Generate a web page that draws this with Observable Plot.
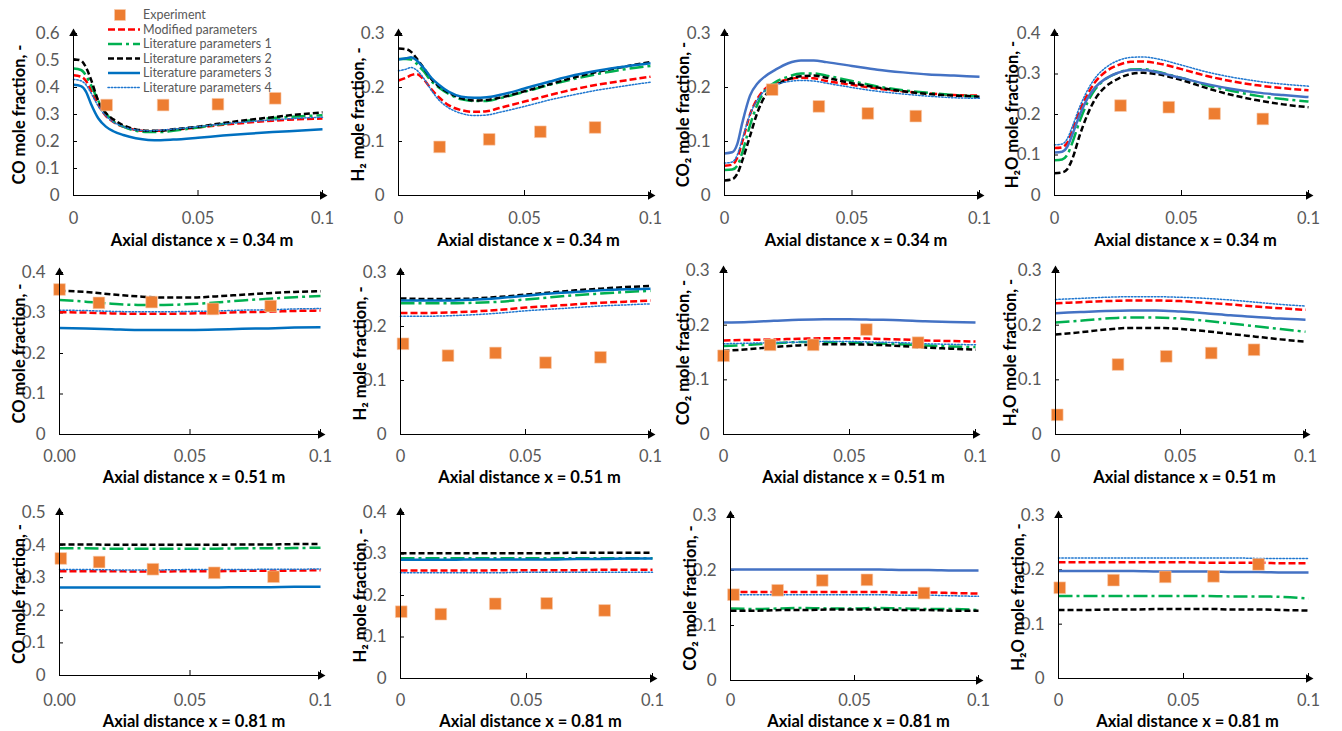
<!DOCTYPE html>
<html><head><meta charset="utf-8">
<script src="https://cdn.jsdelivr.net/npm/d3@7"></script>
<script src="https://cdn.jsdelivr.net/npm/@observablehq/plot@0.6"></script>
<style>
body{margin:0;background:#fff;}
#root{position:relative;width:1342px;height:731px;overflow:hidden;font-family:Lato,sans-serif;}
.panel{position:absolute;}
</style></head><body><div id="root"></div>
<script>
// ---------- DATA ----------
const seriesNames = ["Experiment","Modified parameters","Literature parameters 1","Literature parameters 2","Literature parameters 3","Literature parameters 4"];
const xA = [0,0.003,0.005,0.007,0.01,0.013,0.016,0.02,0.025,0.03,0.035,0.04,0.05,0.06,0.07,0.08,0.09,0.1];
const xB = [0,0.01,0.02,0.03,0.04,0.05,0.06,0.07,0.08,0.09,0.1];

// Row 1: x = 0.34 m
const co034_mod  = [0.445,0.44,0.425,0.39,0.335,0.295,0.272,0.255,0.243,0.238,0.24,0.243,0.252,0.262,0.27,0.277,0.282,0.285];
const co034_lit1 = [0.47,0.465,0.445,0.41,0.35,0.305,0.275,0.255,0.24,0.235,0.235,0.24,0.252,0.265,0.277,0.287,0.293,0.297];
const co034_lit2 = [0.505,0.5,0.475,0.43,0.35,0.305,0.282,0.26,0.245,0.24,0.24,0.245,0.255,0.268,0.28,0.29,0.3,0.308];
const co034_lit3 = [0.41,0.405,0.385,0.34,0.285,0.255,0.238,0.224,0.212,0.206,0.205,0.207,0.214,0.222,0.229,0.235,0.24,0.245];
const co034_lit4 = [0.43,0.425,0.41,0.38,0.33,0.295,0.272,0.255,0.243,0.24,0.242,0.246,0.255,0.265,0.273,0.28,0.286,0.29];
const co034_expX = [0.0133,0.036,0.058,0.081];
const co034_expY = [0.335,0.335,0.338,0.36];

const h2034_mod  = [0.213,0.218,0.223,0.225,0.215,0.197,0.182,0.167,0.158,0.155,0.156,0.162,0.174,0.186,0.197,0.206,0.213,0.22];
const h2034_lit1 = [0.253,0.253,0.252,0.245,0.23,0.212,0.2,0.188,0.178,0.175,0.175,0.18,0.192,0.205,0.216,0.226,0.234,0.24];
const h2034_lit2 = [0.272,0.271,0.266,0.255,0.236,0.216,0.202,0.19,0.18,0.176,0.177,0.181,0.193,0.206,0.219,0.23,0.239,0.247];
const h2034_lit3 = [0.252,0.254,0.256,0.251,0.236,0.218,0.205,0.192,0.183,0.181,0.182,0.186,0.198,0.211,0.223,0.232,0.239,0.245];
const h2034_lit4 = [0.231,0.234,0.237,0.233,0.217,0.195,0.177,0.162,0.152,0.148,0.149,0.154,0.165,0.177,0.187,0.196,0.203,0.21];
const h2034_expX = [0.0163,0.036,0.0563,0.078];
const h2034_expY = [0.09,0.104,0.118,0.126];

const co2034_mod  = [0.055,0.057,0.07,0.1,0.15,0.18,0.198,0.208,0.215,0.218,0.217,0.212,0.205,0.198,0.193,0.189,0.186,0.185];
const co2034_lit1 = [0.047,0.048,0.055,0.08,0.13,0.17,0.195,0.21,0.22,0.226,0.226,0.222,0.212,0.202,0.195,0.19,0.186,0.183];
const co2034_lit2 = [0.028,0.03,0.04,0.065,0.11,0.155,0.185,0.203,0.215,0.221,0.222,0.218,0.208,0.2,0.193,0.188,0.185,0.183];
const co2034_lit3 = [0.078,0.08,0.095,0.135,0.185,0.208,0.221,0.233,0.245,0.25,0.25,0.247,0.24,0.233,0.228,0.224,0.222,0.22];
const co2034_lit4 = [0.06,0.062,0.075,0.105,0.15,0.178,0.195,0.205,0.211,0.213,0.212,0.208,0.2,0.193,0.188,0.184,0.181,0.18];
const co2034_expX = [0.0187,0.037,0.0562,0.075];
const co2034_expY = [0.196,0.165,0.152,0.147];

const h2o034_mod  = [0.117,0.119,0.13,0.16,0.21,0.25,0.28,0.305,0.322,0.33,0.331,0.327,0.312,0.295,0.282,0.272,0.265,0.26];
const h2o034_lit1 = [0.087,0.089,0.1,0.13,0.185,0.23,0.262,0.287,0.303,0.311,0.312,0.306,0.29,0.272,0.258,0.246,0.238,0.232];
const h2o034_lit2 = [0.055,0.057,0.065,0.09,0.15,0.2,0.238,0.268,0.288,0.3,0.303,0.3,0.285,0.265,0.248,0.235,0.225,0.218];
const h2o034_lit3 = [0.106,0.108,0.12,0.15,0.2,0.24,0.267,0.288,0.303,0.31,0.31,0.305,0.29,0.275,0.263,0.254,0.248,0.243];
const h2o034_lit4 = [0.125,0.127,0.14,0.17,0.22,0.26,0.29,0.315,0.333,0.341,0.342,0.338,0.322,0.305,0.292,0.282,0.275,0.27];
const h2o034_expX = [0.026,0.045,0.063,0.082];
const h2o034_expY = [0.222,0.218,0.202,0.189];

// Row 2: x = 0.51 m
const co051_mod  = [0.302,0.301,0.299,0.298,0.298,0.299,0.3,0.302,0.303,0.305,0.306];
const co051_lit1 = [0.332,0.328,0.323,0.32,0.32,0.322,0.326,0.331,0.335,0.339,0.342];
const co051_lit2 = [0.355,0.352,0.346,0.341,0.338,0.338,0.341,0.345,0.349,0.352,0.354];
const co051_lit3 = [0.263,0.262,0.26,0.258,0.258,0.258,0.259,0.261,0.262,0.264,0.265];
const co051_lit4 = [0.307,0.306,0.304,0.303,0.303,0.304,0.305,0.307,0.308,0.31,0.311];
const co051_expX = [0.0,0.0151,0.0353,0.0588,0.0809];
const co051_expY = [0.358,0.325,0.327,0.31,0.317];

const h2051_mod  = [0.225,0.225,0.226,0.228,0.231,0.235,0.238,0.241,0.244,0.246,0.248];
const h2051_lit1 = [0.243,0.243,0.243,0.244,0.246,0.25,0.254,0.258,0.261,0.264,0.266];
const h2051_lit2 = [0.252,0.251,0.251,0.252,0.255,0.259,0.263,0.267,0.27,0.273,0.275];
const h2051_lit3 = [0.248,0.248,0.248,0.25,0.253,0.257,0.261,0.264,0.267,0.269,0.27];
const h2051_lit4 = [0.219,0.219,0.22,0.222,0.225,0.229,0.232,0.235,0.238,0.24,0.242];
const h2051_expX = [0.001,0.019,0.038,0.058,0.08];
const h2051_expY = [0.168,0.146,0.151,0.133,0.143];

const co2051_mod  = [0.172,0.173,0.174,0.175,0.176,0.176,0.175,0.174,0.172,0.171,0.17];
const co2051_lit1 = [0.162,0.164,0.167,0.169,0.169,0.168,0.167,0.165,0.163,0.161,0.16];
const co2051_lit2 = [0.153,0.156,0.16,0.163,0.165,0.165,0.164,0.162,0.159,0.157,0.155];
const co2051_lit3 = [0.205,0.206,0.208,0.21,0.211,0.211,0.21,0.209,0.207,0.206,0.205];
const co2051_lit4 = [0.166,0.167,0.168,0.169,0.17,0.17,0.169,0.168,0.166,0.165,0.164];
const co2051_expX = [0.0,0.0185,0.0356,0.0567,0.0772];
const co2051_expY = [0.144,0.164,0.164,0.192,0.168];

const h2o051_mod  = [0.24,0.242,0.244,0.245,0.245,0.244,0.241,0.238,0.234,0.231,0.228];
const h2o051_lit1 = [0.205,0.208,0.212,0.214,0.214,0.212,0.208,0.203,0.198,0.193,0.188];
const h2o051_lit2 = [0.183,0.187,0.192,0.195,0.195,0.193,0.189,0.184,0.179,0.174,0.17];
const h2o051_lit3 = [0.222,0.224,0.226,0.227,0.227,0.225,0.222,0.218,0.215,0.212,0.21];
const h2o051_lit4 = [0.247,0.249,0.251,0.252,0.252,0.251,0.249,0.246,0.242,0.238,0.235];
const h2o051_expX = [0.0007,0.025,0.0443,0.0623,0.0794];
const h2o051_expY = [0.036,0.128,0.143,0.149,0.155];

// Row 3: x = 0.81 m
const co081_mod  = [0.32,0.32,0.32,0.319,0.319,0.32,0.32,0.321,0.321,0.322,0.323];
const co081_lit1 = [0.39,0.39,0.389,0.389,0.389,0.389,0.389,0.39,0.39,0.391,0.392];
const co081_lit2 = [0.402,0.402,0.401,0.401,0.401,0.401,0.401,0.402,0.402,0.403,0.403];
const co081_lit3 = [0.27,0.27,0.27,0.27,0.27,0.27,0.27,0.271,0.271,0.272,0.272];
const co081_lit4 = [0.325,0.325,0.324,0.324,0.324,0.325,0.325,0.325,0.326,0.326,0.327];
const co081_expX = [0.0005,0.0152,0.0358,0.0593,0.082];
const co081_expY = [0.359,0.348,0.326,0.315,0.303];

const h2081_mod  = [0.26,0.26,0.26,0.26,0.261,0.261,0.261,0.261,0.262,0.262,0.262];
const h2081_lit1 = [0.29,0.29,0.29,0.29,0.29,0.29,0.29,0.29,0.29,0.29,0.29];
const h2081_lit2 = [0.302,0.302,0.302,0.302,0.302,0.302,0.302,0.303,0.303,0.303,0.303];
const h2081_lit3 = [0.286,0.286,0.286,0.287,0.287,0.287,0.287,0.288,0.288,0.289,0.289];
const h2081_lit4 = [0.255,0.255,0.255,0.255,0.255,0.256,0.256,0.256,0.256,0.256,0.256];
const h2081_expX = [0.0003,0.016,0.0376,0.058,0.081];
const h2081_expY = [0.161,0.155,0.18,0.181,0.164];

const co2081_mod  = [0.161,0.161,0.161,0.161,0.161,0.161,0.161,0.16,0.16,0.159,0.158];
const co2081_lit1 = [0.131,0.13,0.131,0.132,0.131,0.131,0.132,0.131,0.13,0.13,0.128];
const co2081_lit2 = [0.127,0.127,0.128,0.128,0.129,0.129,0.129,0.128,0.128,0.127,0.127];
const co2081_lit3 = [0.202,0.202,0.202,0.202,0.202,0.202,0.202,0.201,0.201,0.2,0.2];
const co2081_lit4 = [0.156,0.156,0.156,0.156,0.156,0.156,0.156,0.155,0.155,0.154,0.153];
const co2081_expX = [0.0012,0.019,0.037,0.055,0.078];
const co2081_expY = [0.156,0.164,0.182,0.183,0.159];

const h2o081_mod  = [0.214,0.214,0.214,0.214,0.214,0.214,0.213,0.213,0.213,0.212,0.212];
const h2o081_lit1 = [0.152,0.152,0.152,0.152,0.152,0.152,0.152,0.151,0.151,0.15,0.147];
const h2o081_lit2 = [0.126,0.126,0.127,0.127,0.128,0.128,0.128,0.127,0.127,0.126,0.125];
const h2o081_lit3 = [0.198,0.198,0.198,0.198,0.197,0.197,0.197,0.196,0.196,0.195,0.195];
const h2o081_lit4 = [0.222,0.222,0.222,0.222,0.222,0.222,0.222,0.222,0.221,0.221,0.221];
const h2o081_expX = [0.0005,0.022,0.0427,0.062,0.08];
const h2o081_expY = [0.167,0.181,0.187,0.188,0.21];

const yTitles = ["CO mole fraction, -","H\u2082 mole fraction, -","CO\u2082 mole fraction, -","H\u2082O mole fraction, -"];
const xTitles = ["Axial distance x = 0.34 m","Axial distance x = 0.51 m","Axial distance x = 0.81 m"];
const xTickValues = [0,0.05,0.1];
const xTickLabelsA = ["0","0.05","0.1"];
const xTickLabelsB = ["0.00","0.05","0.1"];
const yMaxes = [0.6,0.3,0.3,0.4, 0.4,0.3,0.3,0.3, 0.5,0.4,0.3,0.3];

// ---------- STYLES & LAYOUT ----------
const blueDark = "#0070C0", blueLight = "#4472C4";
const lineStyles = [
  {key:"mod",  stroke:"#FF0000", width:2.5, dash:"7,3"},
  {key:"lit1", stroke:"#00B050", width:2.5, dash:"14,4,3,4"},
  {key:"lit2", stroke:"#000000", width:2.5, dash:"6,3"},
  {key:"lit3", stroke:null,      width:2.5, dash:null},
  {key:"lit4", stroke:"#1F77D0", width:1.5, dash:"1.5,1.8"}
];
const expStyle = {fill:"#ED7D31", stroke:"#F8CBAD"};

const panelDefs = [
  {id:"co034",  x:xA, x0:73,  x1:322, yT:33,  yB:195, ylabX:19,   row:0, col:0},
  {id:"h2034",  x:xA, x0:398, x1:650, yT:33,  yB:195, ylabX:358,  row:0, col:1},
  {id:"co2034", x:xA, x0:724, x1:979, yT:33,  yB:195, ylabX:683,  row:0, col:2},
  {id:"h2o034", x:xA, x0:1054,x1:1308,yT:33,  yB:195, ylabX:1012, row:0, col:3},
  {id:"co051",  x:xB, x0:59,  x1:320, yT:272, yB:434, ylabX:19,   row:1, col:0},
  {id:"h2051",  x:xB, x0:400, x1:650, yT:272, yB:434, ylabX:360,  row:1, col:1},
  {id:"co2051", x:xB, x0:723, x1:975, yT:270, yB:434, ylabX:683,  row:1, col:2},
  {id:"h2o051", x:xB, x0:1055,x1:1305,yT:270, yB:434, ylabX:1010, row:1, col:3},
  {id:"co081",  x:xB, x0:59,  x1:320, yT:512, yB:675, ylabX:19,   row:2, col:0},
  {id:"h2081",  x:xB, x0:400, x1:652, yT:512, yB:678, ylabX:360,  row:2, col:1},
  {id:"co2081", x:xB, x0:730, x1:978, yT:515, yB:680, ylabX:690,  row:2, col:2},
  {id:"h2o081", x:xB, x0:1058,x1:1308,yT:515, yB:678, ylabX:1018, row:2, col:3}
];
const rowTitleY = [240,477,721];
const rowTickY = [218,456,700];
const dataById = {
  co034:[co034_mod,co034_lit1,co034_lit2,co034_lit3,co034_lit4,co034_expX,co034_expY],
  h2034:[h2034_mod,h2034_lit1,h2034_lit2,h2034_lit3,h2034_lit4,h2034_expX,h2034_expY],
  co2034:[co2034_mod,co2034_lit1,co2034_lit2,co2034_lit3,co2034_lit4,co2034_expX,co2034_expY],
  h2o034:[h2o034_mod,h2o034_lit1,h2o034_lit2,h2o034_lit3,h2o034_lit4,h2o034_expX,h2o034_expY],
  co051:[co051_mod,co051_lit1,co051_lit2,co051_lit3,co051_lit4,co051_expX,co051_expY],
  h2051:[h2051_mod,h2051_lit1,h2051_lit2,h2051_lit3,h2051_lit4,h2051_expX,h2051_expY],
  co2051:[co2051_mod,co2051_lit1,co2051_lit2,co2051_lit3,co2051_lit4,co2051_expX,co2051_expY],
  h2o051:[h2o051_mod,h2o051_lit1,h2o051_lit2,h2o051_lit3,h2o051_lit4,h2o051_expX,h2o051_expY],
  co081:[co081_mod,co081_lit1,co081_lit2,co081_lit3,co081_lit4,co081_expX,co081_expY],
  h2081:[h2081_mod,h2081_lit1,h2081_lit2,h2081_lit3,h2081_lit4,h2081_expX,h2081_expY],
  co2081:[co2081_mod,co2081_lit1,co2081_lit2,co2081_lit3,co2081_lit4,co2081_expX,co2081_expY],
  h2o081:[h2o081_mod,h2o081_lit1,h2o081_lit2,h2o081_lit3,h2o081_lit4,h2o081_expX,h2o081_expY]
};

const root = document.getElementById("root");
const FONT = "Lato, 'Open Sans', sans-serif";
const mL = 70, mR = 22, mT = 30, mB = 60;

panelDefs.forEach((p, idx) => {
  const W = p.x1 - p.x0, H = p.yB - p.yT;
  const yMax = yMaxes[idx];
  const nT = Math.round(yMax * 10);
  const yTicks = Array.from({length: nT + 1}, (_, i) => +(i / 10).toFixed(1));
  const yFmt = d => d === 0 ? "0" : d.toFixed(1);
  const xLabels = p.col === 0 && p.row > 0 ? xTickLabelsB : xTickLabelsA;
  const xFmt = d => xLabels[xTickValues.findIndex(v => Math.abs(v - d) < 1e-9)];
  const arrs = dataById[p.id];
  const lineMarks = lineStyles.map((s, k) => {
    const pts = p.x.map((xv, j) => ({x: xv, y: arrs[k][j], series: seriesNames[k + 1]}));
    return Plot.line(pts, {
      x: "x", y: "y", curve: "monotone-x",
      stroke: s.stroke || (p.col < 2 ? blueDark : blueLight),
      strokeWidth: s.width, strokeDasharray: s.dash, strokeLinecap: s.key === "lit4" ? "round" : "butt"
    });
  });
  const exp = arrs[5].map((xv, j) => ({x: xv, y: arrs[6][j]}));
  const chart = Plot.plot({
    width: W + mL + mR, height: H + mT + mB,
    marginLeft: mL, marginRight: mR, marginTop: mT, marginBottom: mB,
    x: {domain: [0, 0.1], axis: null}, y: {domain: [0, yMax]},
    style: {fontFamily: FONT, background: "transparent", overflow: "visible"},
    marks: [
      Plot.axisY({ticks: yTicks, tickFormat: yFmt, tickSize: 0, tickPadding: 14, fontSize: 17, color: "#595959", label: null}),
      Plot.text(xTickValues, {x: d => d, frameAnchor: "bottom", dy: rowTickY[p.row] - p.yB, text: xFmt, lineAnchor: "middle", fontSize: 16.5, fill: "#595959"}),
      Plot.tickY(yTicks, {y: d => d, insetRight: W - 4, stroke: "#000", strokeWidth: 1}),
      Plot.tickX(xTickValues.slice(1), {x: d => d, insetTop: H - 5, stroke: "#000", strokeWidth: 1}),
      ...lineMarks,
      Plot.dot(exp, {x: "x", y: "y", symbol: "square", r: 6.6, fill: expStyle.fill, stroke: expStyle.stroke, strokeWidth: 0.6}),
      Plot.ruleX([0], {y1: 0, y2: yMax, stroke: "#000", strokeWidth: 1}),
      Plot.ruleY([0], {x1: 0, x2: 0.1, stroke: "#000", strokeWidth: 1}),
      Plot.dot([{x: 0, y: yMax}], {x: "x", y: "y", symbol: "triangle", r: 3.2, fill: "#000", stroke: "none"}),
      Plot.dot([{x: 0.1, y: 0}], {x: "x", y: "y", symbol: "triangle", r: 3.2, rotate: 90, fill: "#000", stroke: "none"}),
      Plot.text([yTitles[p.col]], {text: d => d, frameAnchor: "left", textAnchor: "middle", dx: p.ylabX - p.x0, rotate: -90, fontSize: 16.5, fontWeight: "bold", fill: "#000"}),
      Plot.text([xTitles[p.row]], {text: d => d, frameAnchor: "bottom", textAnchor: "middle", dy: rowTitleY[p.row] - p.yB, dx: 4, fontSize: 16.5, fontWeight: "bold", fill: "#000", lineAnchor: "middle"})
    ]
  });
  chart.classList.add("panel");
  chart.style.left = (p.x0 - mL) + "px";
  chart.style.top = (p.yT - mT) + "px";
  root.appendChild(chart);
});

// ---------- LEGEND ----------
const leg = d3.create("svg").attr("width", 200).attr("height", 100).attr("class", "panel")
  .style("left", "100px").style("top", "6px").style("font-family", FONT);
const rowY = [9, 23.5, 38, 52.5, 67, 81.5];
seriesNames.forEach((name, i) => {
  const y = rowY[i];
  if (i === 0) {
    leg.append("rect").attr("x", 14.5).attr("y", y - 5.5).attr("width", 11).attr("height", 11)
      .attr("fill", expStyle.fill).attr("stroke", expStyle.stroke).attr("stroke-width", 0.6);
  } else {
    const s = lineStyles[i - 1];
    leg.append("line").attr("x1", 8).attr("x2", 40).attr("y1", y).attr("y2", y)
      .attr("stroke", s.stroke || blueDark).attr("stroke-width", s.width)
      .attr("stroke-dasharray", s.dash).attr("stroke-linecap", s.key === "lit4" ? "round" : "butt");
  }
  leg.append("text").attr("x", 43).attr("y", y).attr("dy", "0.35em")
    .attr("font-size", 12.5).attr("fill", "#595959").text(name);
});
root.appendChild(leg.node());
</script>
</body></html>
